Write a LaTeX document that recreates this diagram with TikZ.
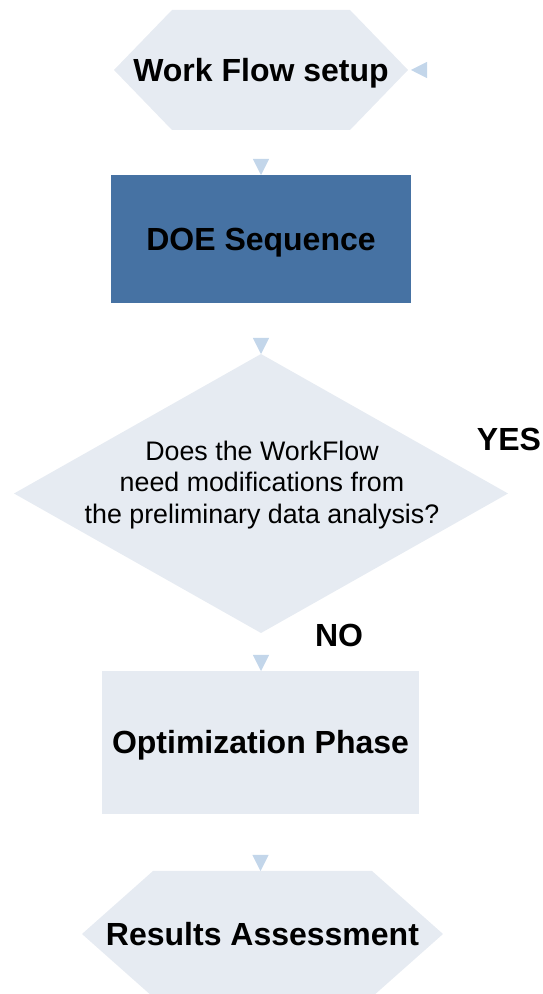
\documentclass[tikz,border=0pt]{standalone}
\usepackage{fontspec}
\setmainfont{Liberation Sans}
\usetikzlibrary{arrows.meta,backgrounds}
\definecolor{lightfill}{HTML}{E6EBF2}
\definecolor{darkfill}{HTML}{4672A3}
\definecolor{arrowc}{HTML}{C3D6EA}
\begin{document}
\begin{tikzpicture}[x=1pt,y=1pt,
  box/.style={inner sep=0pt, outer sep=0pt, text height=23pt, text depth=0pt,
    font=\fontsize{32}{38}\selectfont\bfseries},
  conn/.style={draw=white, line width=0.5pt,
    -{Triangle[length=16pt,width=16pt,color=arrowc]}},
  lbl/.style={font=\fontsize{32}{38}\selectfont\bfseries, inner sep=0pt,
    text height=23pt, text depth=0pt}]
\useasboundingbox (0,0) rectangle (543,994);
% shapes
\node[box, minimum width=294pt, minimum height=120pt] (setup) at (261,924) {Work Flow setup};
\node[box, fill=darkfill, minimum width=300pt, minimum height=128pt] (doe) at (261,755) {DOE Sequence};
\node[inner sep=0pt, outer sep=0pt, minimum width=494pt, minimum height=279pt] (q) at (261,500.5) {};
\node[font=\fontsize{26.8}{31.5}\selectfont, align=center, inner sep=0pt] (qtext) at (262,509)
  {Does the WorkFlow\\need modifications from\\the preliminary data analysis?};
\node[box, fill=lightfill, minimum width=317pt, minimum height=143pt] (opt) at (260.5,251.5) {Optimization Phase};
\node[box, minimum width=361pt, minimum height=126pt] (res) at (262.5,60) {Results Assessment};
\begin{scope}[on background layer]
\fill[lightfill] (setup.west) -- ([xshift=58pt]setup.north west) -- ([xshift=-58pt]setup.north east)
  -- (setup.east) -- ([xshift=-58pt]setup.south east) -- ([xshift=58pt]setup.south west) -- cycle;
\fill[lightfill] (q.north) -- (q.east) -- (q.south) -- (q.west) -- cycle;
\fill[lightfill] (res.west) -- ([xshift=71pt]res.north west) -- ([xshift=-71pt]res.north east)
  -- (res.east) -- ([xshift=-71pt]res.south east) -- ([xshift=71pt]res.south west) -- cycle;
\end{scope}
% connectors
\draw[conn] (setup.south) -- (doe.north);
\draw[conn] (doe.south) -- (q.north);
\draw[conn] (q.south) -- (q.south |- opt.north);
\draw[conn] (opt.south) -- (opt.south |- res.north);
\draw[conn, shorten >=3pt] (q.east) -- ++(24,0) |- (setup.east);
% labels
\node[lbl] (yes) at (509,554.5) {YES};
\node[lbl] (no) at (339,359) {NO};
\end{tikzpicture}
\end{document}
